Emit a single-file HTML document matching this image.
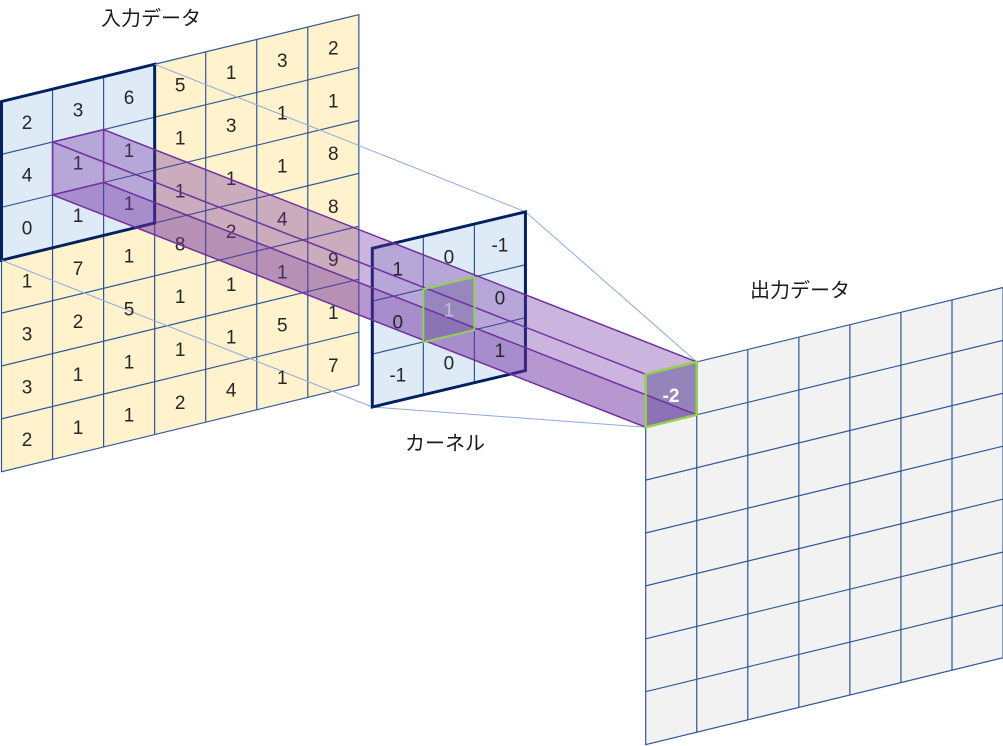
<!DOCTYPE html>
<html><head><meta charset="utf-8"><style>
html,body{margin:0;padding:0;background:#fff;}
svg{display:block;}
text{font-family:"Liberation Sans","Noto Sans CJK JP",sans-serif;}
.n{font-size:19px;fill:#262626;text-anchor:middle;}
.lb{font-size:20px;fill:#1a1a1a;}
</style></head><body>
<svg width="1003" height="746" viewBox="0 0 1003 746" xmlns="http://www.w3.org/2000/svg">
<!-- INPUT GRID -->
<g transform="matrix(1,-0.243,0,1,1.5,101.5)" stroke="#2F5597" stroke-width="1.2">
  <rect x="0" y="0" width="357.35" height="370.3" fill="#FFF2CC"/>
  <rect x="0" y="0" width="153.15" height="158.7" fill="#DEEBF7"/>
  <g fill="none">
    <line x1="51.05" y1="0" x2="51.05" y2="370.3"/><line x1="102.1" y1="0" x2="102.1" y2="370.3"/>
    <line x1="153.15" y1="0" x2="153.15" y2="370.3"/><line x1="204.2" y1="0" x2="204.2" y2="370.3"/>
    <line x1="255.25" y1="0" x2="255.25" y2="370.3"/><line x1="306.3" y1="0" x2="306.3" y2="370.3"/>
    <line x1="0" y1="52.9" x2="357.35" y2="52.9"/><line x1="0" y1="105.8" x2="357.35" y2="105.8"/>
    <line x1="0" y1="158.7" x2="357.35" y2="158.7"/><line x1="0" y1="211.6" x2="357.35" y2="211.6"/>
    <line x1="0" y1="264.5" x2="357.35" y2="264.5"/><line x1="0" y1="317.4" x2="357.35" y2="317.4"/>
  </g>
  <rect x="0" y="0" width="153.15" height="158.7" fill="none" stroke="#002060" stroke-width="3"/>
</g>
<!-- light connector lines -->
<g stroke="#8FAADC" stroke-width="1">
  <line x1="154.65" y1="64.3" x2="525.45" y2="211.8"/>
  <line x1="1.5" y1="260.2" x2="372.3" y2="407"/>
  <line x1="525.45" y1="211.8" x2="696.75" y2="361.9"/>
  <line x1="372.3" y1="407" x2="645.7" y2="427.2"/>
</g>
<!-- input numbers -->
<g class="n">
<text x="27" y="128.8">2</text><text x="27" y="181.7">4</text><text x="27" y="234.6">0</text><text x="27" y="287.5">1</text><text x="27" y="340.4">3</text><text x="27" y="393.3">3</text><text x="27" y="446.2">2</text>
<text x="78.1" y="116.4">3</text><text x="78.1" y="169.3">1</text><text x="78.1" y="222.2">1</text><text x="78.1" y="275.1">7</text><text x="78.1" y="328">2</text><text x="78.1" y="380.9">1</text><text x="78.1" y="433.8">1</text>
<text x="129.1" y="104">6</text><text x="129.1" y="156.9">1</text><text x="129.1" y="209.8">1</text><text x="129.1" y="262.7">1</text><text x="129.1" y="315.6">5</text><text x="129.1" y="368.5">1</text><text x="129.1" y="421.4">1</text>
<text x="180.2" y="91.6">5</text><text x="180.2" y="144.5">1</text><text x="180.2" y="197.4">1</text><text x="180.2" y="250.3">8</text><text x="180.2" y="303.2">1</text><text x="180.2" y="356.1">1</text><text x="180.2" y="409">2</text>
<text x="231.2" y="79.2">1</text><text x="231.2" y="132.1">3</text><text x="231.2" y="185">1</text><text x="231.2" y="237.9">2</text><text x="231.2" y="290.8">1</text><text x="231.2" y="343.7">1</text><text x="231.2" y="396.6">4</text>
<text x="282.3" y="66.8">3</text><text x="282.3" y="119.7">1</text><text x="282.3" y="172.6">1</text><text x="282.3" y="225.5">4</text><text x="282.3" y="278.4">1</text><text x="282.3" y="331.3">5</text><text x="282.3" y="384.2">1</text>
<text x="333.3" y="54.4">2</text><text x="333.3" y="107.3">1</text><text x="333.3" y="160.2">8</text><text x="333.3" y="213.1">8</text><text x="333.3" y="266">9</text><text x="333.3" y="318.9">1</text><text x="333.3" y="371.8">7</text>
</g>
<!-- KERNEL -->
<g transform="matrix(1,-0.238,0,1,372.3,248.3)" stroke="#2F5597" stroke-width="1.2">
  <rect x="0" y="0" width="153.15" height="158.7" fill="#DEEBF7"/>
  <line x1="51.05" y1="0" x2="51.05" y2="158.7"/><line x1="102.1" y1="0" x2="102.1" y2="158.7"/>
  <line x1="0" y1="52.9" x2="153.15" y2="52.9"/><line x1="0" y1="105.8" x2="153.15" y2="105.8"/>
  <rect x="0" y="0" width="153.15" height="158.7" fill="none" stroke="#002060" stroke-width="3"/>
</g>
<!-- OUTPUT GRID -->
<g transform="matrix(1,-0.243,0,1,645.7,374.3)" stroke="#2F5597" stroke-width="1.2">
  <rect x="0" y="0" width="357.35" height="370.3" fill="#F2F2F2"/>
  <line x1="51.05" y1="0" x2="51.05" y2="370.3"/><line x1="102.1" y1="0" x2="102.1" y2="370.3"/>
  <line x1="153.15" y1="0" x2="153.15" y2="370.3"/><line x1="204.2" y1="0" x2="204.2" y2="370.3"/>
  <line x1="255.25" y1="0" x2="255.25" y2="370.3"/><line x1="306.3" y1="0" x2="306.3" y2="370.3"/>
  <line x1="0" y1="52.9" x2="357.35" y2="52.9"/><line x1="0" y1="105.8" x2="357.35" y2="105.8"/>
  <line x1="0" y1="158.7" x2="357.35" y2="158.7"/><line x1="0" y1="211.6" x2="357.35" y2="211.6"/>
  <line x1="0" y1="264.5" x2="357.35" y2="264.5"/><line x1="0" y1="317.4" x2="357.35" y2="317.4"/>
  <rect x="0" y="0" width="51.05" height="52.9" fill="#A9B4C8"/>
</g>
<!-- PRISM -->
<g stroke="none">
  <polygon points="52.55,142 103.6,129.6 696.75,361.9 696.75,414.8 645.7,427.2 52.55,194.9" fill="rgba(112,48,160,0.36)"/>
  <polygon points="103.6,182.5 696.75,414.8 645.7,427.2 52.55,194.9" fill="rgba(112,48,160,0.22)"/>
  <polygon points="423.35,289.15 474.4,277 474.4,330 423.35,342.1" fill="rgba(60,40,110,0.25)"/>
</g>
<g stroke="#7030A0" stroke-width="1.5" fill="none">
  <line x1="52.55" y1="142" x2="645.7" y2="374.3"/>
  <line x1="103.6" y1="129.6" x2="696.75" y2="361.9"/>
  <line x1="103.6" y1="182.5" x2="696.75" y2="414.8"/>
  <line x1="52.55" y1="194.9" x2="645.7" y2="427.2"/>
  <polygon points="52.55,142 103.6,129.6 103.6,182.5 52.55,194.9"/>
</g>
<polygon points="423.35,289.15 474.4,277 474.4,330 423.35,342.1" fill="none" stroke="#92D050" stroke-width="2"/>
<polygon points="645.7,374.3 696.75,361.9 696.75,414.8 645.7,427.2" fill="none" stroke="#92D050" stroke-width="2.5"/>
<!-- kernel numbers -->
<g class="n">
<text x="397.8" y="275.7">1</text><text x="397.8" y="328.6">0</text><text x="397.8" y="381.5">-1</text>
<text x="448.9" y="263.6">0</text><text x="448.9" y="316.5" style="fill:#C8C0D8">1</text><text x="448.9" y="369.4">0</text>
<text x="499.9" y="251.4">-1</text><text x="499.9" y="304.3">0</text><text x="499.9" y="357.2">1</text>
</g>
<text x="671" y="402" style="font-size:19px;font-weight:bold;fill:#fff;text-anchor:middle">-2</text>
<!-- labels -->
<text class="lb" x="101" y="25">入力データ</text>
<text class="lb" x="405" y="450">カーネル</text>
<text class="lb" x="750" y="297">出力データ</text>
</svg>
</body></html>
